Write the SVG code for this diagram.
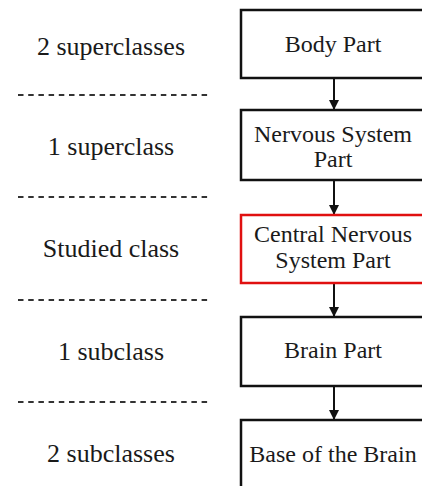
<svg xmlns="http://www.w3.org/2000/svg" width="422" height="486" viewBox="0 0 422 486">
<style>
.box{fill:#fff;stroke:#111;stroke-width:2.5}
.red{fill:#fff;stroke:#e01010;stroke-width:2.5}
.t{font-family:"Liberation Serif","Times New Roman",serif;font-size:24px;fill:#1a1a1a;text-anchor:middle}
.l{font-family:"Liberation Serif","Times New Roman",serif;font-size:26px;fill:#1a1a1a;text-anchor:middle}
.sep{stroke:#333;stroke-width:2;stroke-dasharray:5.5 4.7}
.c{stroke:#111;stroke-width:2;fill:none}
</style>
<defs>
<marker id="ah" viewBox="0 0 10 10" refX="10" refY="5" markerWidth="10" markerHeight="10" markerUnits="userSpaceOnUse" orient="auto">
<path d="M0,0 L10,5 L0,10 z" fill="#111"/>
</marker>
</defs>
<g id="labels">
<text class="l" x="111" y="55">2 superclasses</text>
<text class="l" x="111" y="155">1 superclass</text>
<text class="l" x="111" y="257">Studied class</text>
<text class="l" x="111" y="360">1 subclass</text>
<text class="l" x="111" y="462">2 subclasses</text>
</g>
<g id="separators">
<line class="sep" x1="18" y1="95" x2="208" y2="95"/>
<line class="sep" x1="18" y1="197" x2="208" y2="197"/>
<line class="sep" x1="18" y1="300" x2="208" y2="300"/>
<line class="sep" x1="18" y1="402" x2="208" y2="402"/>
</g>
<g id="connectors">
<line class="c" x1="334" y1="78" x2="334" y2="110" marker-end="url(#ah)"/>
<line class="c" x1="334" y1="180" x2="334" y2="215" marker-end="url(#ah)"/>
<line class="c" x1="334" y1="283" x2="334" y2="317" marker-end="url(#ah)"/>
<line class="c" x1="334" y1="386" x2="334" y2="420" marker-end="url(#ah)"/>
</g>
<g id="body-part">
<rect class="box" x="241" y="10" width="186" height="68"/>
<text class="t" x="333" y="52">Body Part</text>
</g>
<g id="nervous-system-part">
<rect class="box" x="241" y="110" width="186" height="70"/>
<text class="t" x="333" y="142">Nervous System</text>
<text class="t" x="333" y="167">Part</text>
</g>
<g id="central-nervous-system-part">
<rect class="red" x="241" y="215" width="186" height="68"/>
<text class="t" x="333" y="242">Central Nervous</text>
<text class="t" x="333" y="268">System Part</text>
</g>
<g id="brain-part">
<rect class="box" x="241" y="317" width="186" height="69"/>
<text class="t" x="333" y="358">Brain Part</text>
</g>
<g id="base-of-the-brain">
<rect class="box" x="241" y="420" width="186" height="72"/>
<text class="t" x="333" y="462">Base of the Brain</text>
</g>
</svg>
